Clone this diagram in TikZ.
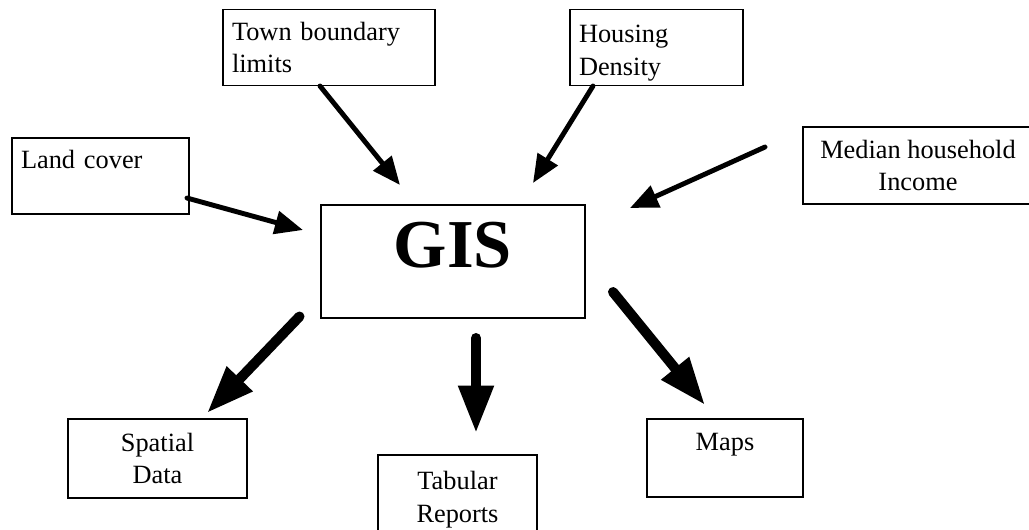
\documentclass[tikz,border=0pt]{standalone}
\usepackage{fontspec}
\setmainfont{Liberation Serif}
\usetikzlibrary{arrows.meta}

\begin{document}
\begin{tikzpicture}[x=0.02cm,y=-0.02cm,
  every node/.style={font=\fontsize{15pt}{18.7pt}\selectfont},
  box/.style={draw, line width=0.8pt, inner sep=0.18cm},
  inbox/.style={box, align=left, minimum height=1.52cm},
  outbox/.style={box, align=center, inner sep=0pt},
  feed/.style={-{Triangle[length=16pt,width=13pt]}, line width=2.8pt, line cap=round},
  result/.style={-{Triangle[length=27pt,width=19pt]}, line width=5.7pt, line cap=round}]
\fill[white] (0,0) rectangle (1029,529);
\useasboundingbox (0,0) rectangle (1029,529);
\node[inbox, text width=3.88cm] (town) at (329,47.5) {Town boundary\\limits};
\node[inbox, text width=3.10cm, inner ysep=0pt] (housing) at (656.5,47.5) {\rule{0pt}{16pt}Housing\\Density};
\node[inbox, text width=3.18cm] (land) at (100.5,176) {Land cover\\\mbox{}};
\node[outbox, minimum width=4.6cm, minimum height=1.54cm] (median) at (918,165.5) {Median household\\Income};
\node[outbox, minimum width=5.28cm, minimum height=2.26cm] (gis) at (453,261.5) {};
\node[font=\bfseries\fontsize{39pt}{39pt}\selectfont, inner sep=0pt] (gis-title) at (453,245) {GIS};
\node[outbox, minimum width=3.58cm, minimum height=1.58cm] (spatial) at (157.5,458.5) {Spatial\\Data};
\node[outbox, minimum width=3.18cm, minimum height=1.8cm] (tabular) at (457.5,500) {Tabular\\Reports};
\node[outbox, minimum width=3.12cm, minimum height=1.56cm] (maps) at (725,458) {Maps\\\mbox{}};
\coordinate (town-tail) at (320,86);
\coordinate (town-tip) at (400,185);
\coordinate (housing-tail) at (593,86);
\coordinate (housing-tip) at (533,183);
\coordinate (land-tail) at (187,198);
\coordinate (land-tip) at (303,230);
\coordinate (median-tail) at (765,147);
\coordinate (median-tip) at (630,208);
\coordinate (spatial-tail) at (299.5,316.5);
\coordinate (spatial-tip) at (207,413);
\coordinate (tabular-tail) at (476,338);
\coordinate (tabular-tip) at (476,433);
\coordinate (maps-tail) at (613,292);
\coordinate (maps-tip) at (705,405);
\draw[feed] (town-tail) -- (town-tip);
\draw[feed] (housing-tail) -- (housing-tip);
\draw[feed] (land-tail) -- (land-tip);
\draw[feed] (median-tail) -- (median-tip);
\draw[result] (spatial-tail) -- (spatial-tip);
\draw[result] (tabular-tail) -- (tabular-tip);
\draw[result] (maps-tail) -- (maps-tip);
\end{tikzpicture}
\end{document}
